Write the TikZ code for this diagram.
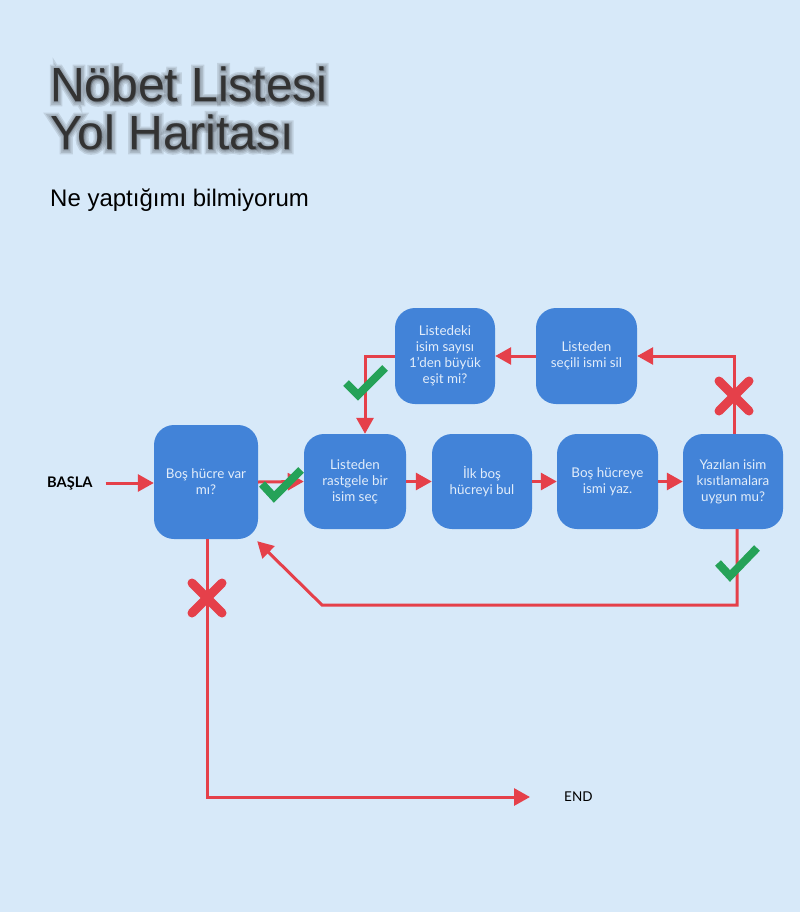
\documentclass[tikz,border=0pt]{standalone}
\usepackage{fontspec}
\setmainfont{Lato}
\newfontfamily\arialf{Liberation Sans}
\newfontfamily\shadowa[FakeBold=6]{Liberation Sans}
\newfontfamily\shadowb[FakeBold=12]{Liberation Sans}
\newfontfamily\shadowc[FakeBold=18]{Liberation Sans}
\usetikzlibrary{arrows.meta,calc}
\definecolor{bgc}{HTML}{D7E9F9}
\definecolor{boxc}{HTML}{4283D8}
\definecolor{txtc}{HTML}{E2EDFA}
\definecolor{redc}{HTML}{E5404A}
\definecolor{greenc}{HTML}{25A258}
\definecolor{titlec}{HTML}{333333}
\tikzset{
  stepbox/.style={draw=none, fill=boxc, rounded corners=20pt, text=txtc, align=center,
    font=\fontsize{13.4}{16}\selectfont, inner sep=0pt},
  arr/.style={draw=redc, line width=3pt, -{Triangle[length=16pt,width=17pt]}},
  okmark/.style={draw=greenc, line width=8pt},
  nomark/.style={draw=redc, line width=9pt, line cap=round},
  titletext/.style={anchor=base west, inner sep=0pt},
  shadowtext/.style={anchor=base west, inner sep=0pt, text=black, opacity=0.10},
}
\begin{document}
\begin{tikzpicture}[x=1pt,y=-1pt]
\fill[bgc] (0,0) rectangle (800,912);
\useasboundingbox (0,0) rectangle (800,912);

% title with soft shadow
\node (s1a) [shadowtext, font=\shadowc\fontsize{48}{48}\selectfont] at (50,102) {Nöbet Listesi};
\node (s2a) [shadowtext, font=\shadowc\fontsize{48}{48}\selectfont] at (50,150) {Yol Haritası};
\node (s1b) [shadowtext, font=\shadowb\fontsize{48}{48}\selectfont] at (50,102) {Nöbet Listesi};
\node (s2b) [shadowtext, font=\shadowb\fontsize{48}{48}\selectfont] at (50,150) {Yol Haritası};
\node (s1c) [shadowtext, font=\shadowa\fontsize{48}{48}\selectfont] at (50,102) {Nöbet Listesi};
\node (s2c) [shadowtext, font=\shadowa\fontsize{48}{48}\selectfont] at (50,150) {Yol Haritası};
\node (t1) [titletext, text=titlec, font=\arialf\fontsize{48}{48}\selectfont] at (50,102) {Nöbet Listesi};
\node (t2) [titletext, text=titlec, font=\arialf\fontsize{48}{48}\selectfont] at (50,150) {Yol Haritası};
\node (sub) [titletext, text=black, font=\arialf\fontsize{24}{24}\selectfont] at (50,206) {Ne yaptığımı bilmiyorum};

% boxes
\node (bos) [stepbox, minimum width=104pt, minimum height=114pt] at (206,482) {Boş hücre var\\mı?};
\node (rast) [stepbox, minimum width=102pt, minimum height=95pt] at (355,481.5) {Listeden\\rastgele bir\\isim seç};
\node (ilk) [stepbox, minimum width=100pt, minimum height=95pt] at (482,481.5) {İlk boş\\hücreyi bul};
\node (yazb) [stepbox, minimum width=101pt, minimum height=95pt] at (607.5,481.5) {Boş hücreye\\ismi yaz.};
\node (yaz) [stepbox, minimum width=100pt, minimum height=95pt] at (733,481.5) {Yazılan isim\\kısıtlamalara\\uygun mu?};
\node (kont) [stepbox, minimum width=100pt, minimum height=96pt] at (445,356) {Listedeki\\isim sayısı\\1'den büyük\\eşit mi?};
\node (sil) [stepbox, minimum width=101pt, minimum height=96pt] at (586.5,356) {Listeden\\seçili ismi sil};

\node (basla) [anchor=west, inner sep=0pt, font=\bfseries\fontsize{14.6}{16}\selectfont] at (47,483) {BAŞLA};
\node (end) [anchor=west, inner sep=0pt, font=\fontsize{13.5}{16}\selectfont] at (564,797) {END};

\coordinate (c1) at (737,605);
\coordinate (c2) at (322,605);

% connectors
\draw[arr, shorten <=13pt] (basla.east) -- (bos.west |- basla.east);
\draw[arr] (bos.east) -- (rast.west);
\draw[arr] (rast.east) -- (ilk.west);
\draw[arr] (ilk.east) -- (yazb.west);
\draw[arr] (yazb.east) -- (yaz.west);
\draw[arr] ([xshift=1pt]yaz.north) |- (sil.east);
\draw[arr] (sil.west) -- (kont.east);
\draw[arr] (kont.west) -| ([xshift=10pt]rast.north);
\draw[arr] (yaz.south -| c1) -- (c1) -- (c2) -- ([xshift=-1pt,yshift=-2pt]bos.south east);
\draw[arr, shorten >=34pt] ([xshift=1pt]bos.south) |- (end.west);

% marks
\draw[okmark] (262,484) -- (274,497) -- (301,470);
\draw[okmark] (346,383) -- (358,395) -- (385,368);
\draw[okmark] (718,563) -- (730,576) -- (757,548);
\draw[nomark] (192,583) -- (222,613);
\draw[nomark] (222,583) -- (192,613);
\draw[nomark] (719,381) -- (749,411);
\draw[nomark] (749,381) -- (719,411);
\end{tikzpicture}
\end{document}
